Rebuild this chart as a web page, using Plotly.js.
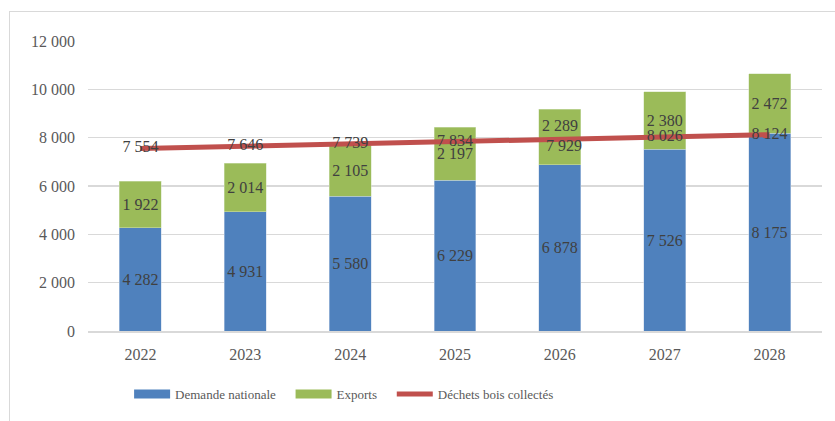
<!DOCTYPE html>
<html>
<head>
<meta charset="utf-8">
<script src="https://cdn.plot.ly/plotly-3.0.1.min.js"></script>
<style>
  html, body { margin: 0; padding: 0; background: #fff; width: 835px; height: 421px; overflow: hidden; }
  #frame { position: absolute; left: 9px; top: 11px; width: 825px; height: 409px;
           border-left: 1px solid #d9d9d9; border-top: 1px solid #d9d9d9; }
  #chart { width: 825px; height: 409px; }
</style>
</head>
<body>
<div id="frame"><div id="chart"></div></div>
<script>
const years = ['2022', '2023', '2024', '2025', '2026', '2027', '2028'];
const demandeNationale = [4282, 4931, 5580, 6229, 6878, 7526, 8175];
const exportsVals = [1922, 2014, 2105, 2197, 2289, 2380, 2472];
const dechetsBois = [7554, 7646, 7739, 7834, 7929, 8026, 8124];
const yTicks = [0, 2000, 4000, 6000, 8000, 10000, 12000];
const seriesNames = ['Demande nationale', 'Exports', 'Déchets bois collectés'];

const BLUE = '#4F81BD', GREEN = '#9BBB59', RED = '#C0504D', TXT = '#404040', AX = '#595959';
const FONT = '"Liberation Serif", "DejaVu Serif", serif';

const barText = {family: FONT, size: 16, color: TXT};
const PAD = '\u00a0\u00a0\u00a0';
const fmt = v => String(v).replace(/\B(?=(\d{3})+(?!\d))/g, ' ');

// 2026 labels of exports and line are displaced in the reference to avoid overlap
const SHIFTED = 4;
const tmpl = (i) => (i === SHIFTED ? '' : '%{y:,}');

const traces = [
  {
    type: 'bar', x: years, y: demandeNationale, name: seriesNames[0],
    marker: {color: BLUE, line: {color: '#c8d6ea', width: 0.5}},
    texttemplate: '%{y:,}', textposition: 'inside', insidetextanchor: 'middle', textangle: 0,
    textfont: barText, constraintext: 'none', showlegend: false, hoverinfo: 'skip'
  },
  {
    type: 'bar', x: years, y: exportsVals, name: seriesNames[1],
    marker: {color: GREEN, line: {color: '#d4e3bd', width: 0.5}},
    texttemplate: years.map((_, i) => tmpl(i)), textposition: 'inside', insidetextanchor: 'middle', textangle: 0,
    textfont: barText, constraintext: 'none', showlegend: false, hoverinfo: 'skip'
  },
  {
    type: 'scatter', mode: 'lines+text', x: years, y: dechetsBois, name: seriesNames[2],
    line: {color: RED, width: 5}, texttemplate: years.map((_, i) => tmpl(i)), textposition: 'middle center',
    textfont: barText, showlegend: false, cliponaxis: false, hoverinfo: 'skip'
  },
  // legend entries
  { type: 'scatter', mode: 'lines', x: [years[0]], y: [null], name: seriesNames[0] + PAD,
    line: {color: BLUE, width: 9}, showlegend: true },
  { type: 'scatter', mode: 'lines', x: [years[0]], y: [null], name: seriesNames[1] + PAD,
    line: {color: GREEN, width: 9}, showlegend: true },
  { type: 'scatter', mode: 'lines', x: [years[0]], y: [null], name: seriesNames[2],
    line: {color: RED, width: 5}, showlegend: true }
];

const annotations = [
  { x: SHIFTED, y: demandeNationale[SHIFTED] + exportsVals[SHIFTED] / 2,
    xref: 'x', yref: 'y', text: fmt(exportsVals[SHIFTED]), showarrow: false,
    yshift: 12, font: barText },
  { x: SHIFTED, y: dechetsBois[SHIFTED],
    xref: 'x', yref: 'y', text: fmt(dechetsBois[SHIFTED]), showarrow: false,
    yshift: -6, xshift: 4, font: barText }
];

const layout = {
  width: 825, height: 409,
  margin: {l: 78, r: 13, t: 29, b: 90},
  paper_bgcolor: '#fff', plot_bgcolor: '#fff',
  separators: ', ',
  barmode: 'stack', bargap: 0.6,
  font: {family: FONT, size: 16, color: AX},
  showlegend: true,
  annotations: annotations,
  legend: {
    orientation: 'h', x: 0.056, xanchor: 'left', y: -0.217, yanchor: 'middle',
    font: {family: FONT, size: 13, color: AX}, itemwidth: 36, traceorder: 'normal',
    bgcolor: 'rgba(0,0,0,0)'
  },
  xaxis: {
    type: 'category', categoryarray: years, categoryorder: 'array',
    range: [-0.5, years.length - 0.5], showgrid: false, zeroline: false,
    showline: true, linecolor: '#d9d9d9', linewidth: 1.5,
    ticks: '', ticklabelstandoff: 8,
    tickfont: {family: FONT, size: 16, color: AX}, fixedrange: true
  },
  yaxis: {
    range: [0, 12000], tickvals: yTicks, tickformat: ',',
    showgrid: true, gridcolor: '#d9d9d9', gridwidth: 1.5, zeroline: false,
    showline: false, ticks: '', ticklabelstandoff: 12,
    tickfont: {family: FONT, size: 16, color: AX}, fixedrange: true
  }
};

Plotly.newPlot('chart', traces, layout, {displayModeBar: false, staticPlot: true});
</script>
</body>
</html>
